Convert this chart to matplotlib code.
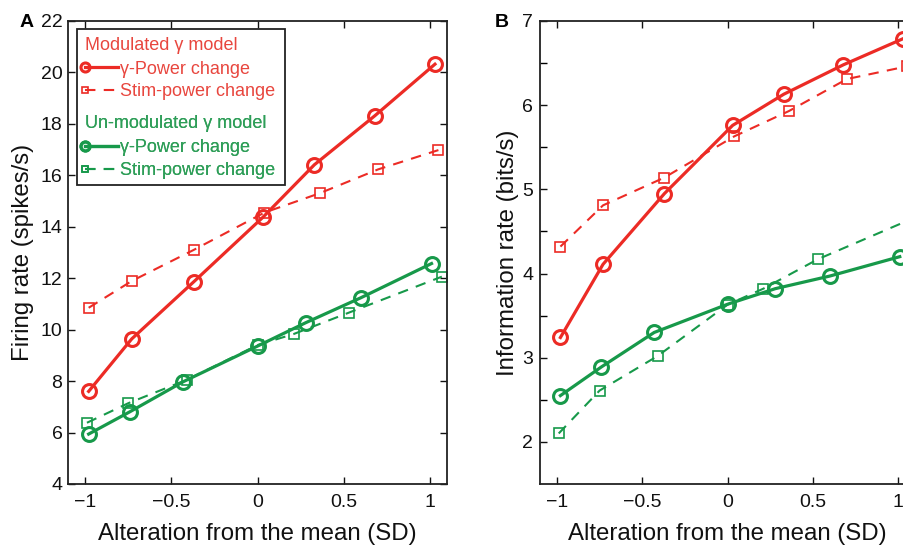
import matplotlib

matplotlib.use("Agg")
import matplotlib.pyplot as plt
from matplotlib.legend_handler import HandlerLine2D
from matplotlib.patches import Rectangle

plt.rcParams["font.family"] = ["Liberation Sans", "DejaVu Sans"]

# Alteration from the mean (SD) for each simulated condition
x_mod_gamma = [-0.98, -0.73, -0.37, 0.03, 0.33, 0.68, 1.03]
x_mod_stim = [-0.98, -0.73, -0.37, 0.04, 0.36, 0.70, 1.05]
x_unmod_gamma = [-0.98, -0.74, -0.43, 0.0, 0.28, 0.60, 1.01]
x_unmod_stim = [-0.99, -0.75, -0.41, 0.0, 0.21, 0.53, 1.07]

# Panel A: firing rate (spikes/s)
rate_mod_gamma = [7.6, 9.64, 11.86, 14.36, 16.41, 18.31, 20.32]
rate_mod_stim = [10.85, 11.89, 13.1, 14.55, 15.30, 16.23, 16.98]
rate_unmod_gamma = [5.94, 6.81, 7.98, 9.36, 10.27, 11.24, 12.57]
rate_unmod_stim = [6.38, 7.14, 8.05, 9.40, 9.83, 10.66, 12.06]

# Panel B: information rate (bits/s)
info_mod_gamma = [3.24, 4.11, 4.95, 5.76, 6.13, 6.48, 6.79]
info_mod_stim = [4.32, 4.81, 5.14, 5.63, 5.93, 6.31, 6.46]
info_unmod_gamma = [2.55, 2.89, 3.30, 3.635, 3.82, 3.97, 4.20]
info_unmod_stim = [2.10, 2.61, 3.02, 3.63, 3.82, 4.17, 4.64]

x_ticks = [-1, -0.5, 0, 0.5, 1]
x_tick_labels = ["\u22121", "\u22120.5", "0", "0.5", "1"]
rate_ticks = [4, 6, 8, 10, 12, 14, 16, 18, 20, 22]
info_ticks = [2, 3, 4, 5, 6, 7]

RED = "#ec2b25"
RED_TEXT = "#e8463e"
GREEN = "#17994a"
GREEN_TEXT = "#2e9e58"
TEXT = "#111111"


class LeftMarkerHandler(HandlerLine2D):
    """Legend handle with the marker at the left end of the line."""

    def create_artists(self, *args, **kwargs):
        artists = super().create_artists(*args, **kwargs)
        artists[0].set_markevery([0])
        return artists


def draw_series(ax, mg, ms, ug, us):
    styles = [
        (x_mod_gamma, mg, RED, "-", "o"),
        (x_mod_stim, ms, RED, (0, (5, 4)), "s"),
        (x_unmod_gamma, ug, GREEN, "-", "o"),
        (x_unmod_stim, us, GREEN, (0, (5, 4)), "s"),
    ]
    lines = []
    for xs, ys, color, ls, marker in styles:
        solid = ls == "-"
        (ln,) = ax.plot(
            xs, ys, color=color, linestyle=ls, lw=2.3 if solid else 1.5,
            marker=marker, markersize=10 if solid else 7.5,
            markerfacecolor="none", markeredgecolor=color,
            markeredgewidth=2.2 if solid else 1.2, clip_on=False if solid else True,
            zorder=3 if solid else 2,
        )
        lines.append(ln)
    return lines


def style_axes(ax):
    ax.set_xlim(-1.1, 1.1)
    ax.set_xticks(x_ticks)
    ax.set_xticklabels(x_tick_labels)
    ax.tick_params(direction="in", top=True, right=True, length=5, width=1,
                   labelsize=14, colors=TEXT)
    ax.tick_params(axis="x", pad=7)
    ax.tick_params(axis="y", pad=4)
    ax.tick_params(which="minor", direction="in", top=False, right=True,
                   length=5, width=1)
    for sp in ax.spines.values():
        sp.set_linewidth(1.3)
        sp.set_color("#222222")
    ax.set_xlabel("Alteration from the mean (SD)", fontsize=17.3, color=TEXT,
                  labelpad=9)


fig = plt.figure(figsize=(9.04, 5.46), dpi=100)
ax_a = fig.add_axes([0.0752, 0.1136, 0.4193, 0.848])
ax_b = fig.add_axes([0.5973, 0.1136, 0.415, 0.848])

# Panel A
lines_a = draw_series(ax_a, rate_mod_gamma, rate_mod_stim, rate_unmod_gamma, rate_unmod_stim)
style_axes(ax_a)
ax_a.set_ylim(4, 22)
ax_a.set_yticks(rate_ticks)
ax_a.set_ylabel("Firing rate (spikes/s)", fontsize=17.3, color=TEXT, labelpad=5)
fig.text(0.022, 0.958, "A", fontsize=14, fontweight="bold", ha="left", va="center")

# Panel B
draw_series(ax_b, info_mod_gamma, info_mod_stim, info_unmod_gamma, info_unmod_stim)
style_axes(ax_b)
ax_b.set_ylim(1.5, 7)
ax_b.set_yticks(info_ticks)
ax_b.set_yticks([2.5, 3.5, 4.5, 5.5, 6.5], minor=True)
ax_b.tick_params(axis="y", pad=5)
ax_b.set_ylabel("Information rate (bits/s)", fontsize=17.3, color=TEXT, labelpad=2.5)
fig.text(0.547, 0.958, "B", fontsize=14, fontweight="bold", ha="left", va="center")

# Two-part legend inside a single frame
handler = {ln: LeftMarkerHandler() for ln in lines_a}
groups = [
    ("Modulated \u03b3 model", lines_a[:2], RED_TEXT, 0.970),
    ("Un-modulated \u03b3 model", lines_a[2:], GREEN_TEXT, 0.800),
]
for title, handles, color, top in groups:
    leg = ax_a.legend(
        handles, ["\u03b3-Power change", "Stim-power change"],
        title=title, title_fontsize=13, fontsize=13, loc="upper left",
        bbox_to_anchor=(0.041, top), frameon=False, alignment="left",
        handlelength=1.8, handletextpad=0.1, labelspacing=0.32,
        borderpad=0.1, borderaxespad=0, handler_map=handler, markerscale=0.65,
    )
    leg.get_title().set_color(color)
    for t in leg.get_texts():
        t.set_color(color)
    leg._legend_box.sep = 5
    ax_a.add_artist(leg)

ax_a.add_patch(Rectangle((0.024, 0.646), 0.549, 0.337, transform=ax_a.transAxes,
                         fill=False, edgecolor="#222222", lw=1.3, zorder=5))

fig.savefig("out.png", dpi=100)
